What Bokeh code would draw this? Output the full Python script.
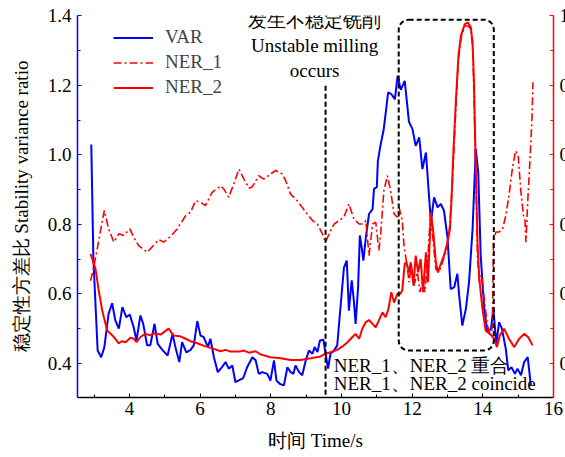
from bokeh.plotting import figure
from bokeh.models import (Range1d, LinearAxis, FixedTicker, Legend, LegendItem,
                          Label, BoxAnnotation, GlobalInlineStyleSheet, PrintfTickFormatter)
from bokeh.embed import file_html
from bokeh.resources import INLINE

# ---------------- data ----------------
VAR_t = [2.92, 2.98, 3.10, 3.20, 3.29, 3.41, 3.51, 3.60, 3.70, 3.80,
         3.91, 4.01, 4.12, 4.20, 4.31, 4.39, 4.50, 4.59, 4.71, 4.80,
         4.93, 5.08, 5.22, 5.30, 5.41, 5.49, 5.61, 5.73, 5.82, 5.92,
         6.01, 6.10, 6.22, 6.29, 6.39, 6.50, 6.63, 6.72, 6.81, 6.91,
         7.00, 7.12, 7.22, 7.33, 7.48, 7.57, 7.66, 7.76, 7.90, 7.99,
         8.09, 8.16, 8.26, 8.37, 8.47, 8.56, 8.64, 8.70, 8.80, 8.89,
         8.99, 9.08, 9.18, 9.24, 9.32, 9.39, 9.49, 9.55, 9.62, 9.69,
         9.79, 9.88, 9.98, 10.07, 10.15, 10.21, 10.29, 10.35, 10.40, 10.47,
         10.52, 10.57, 10.62, 10.69, 10.78, 10.88, 10.92, 11.00, 11.03, 11.11,
         11.19, 11.26, 11.32, 11.41, 11.51, 11.59, 11.68, 11.79, 11.91, 12.01,
         12.10, 12.20, 12.29, 12.39, 12.48, 12.53, 12.62, 12.72, 12.81, 12.90,
         13.00, 13.09, 13.19, 13.28, 13.33, 13.42, 13.52, 13.61, 13.71, 13.80,
         13.87, 13.94, 14.04, 14.13, 14.23, 14.30, 14.38, 14.46, 14.54, 14.65,
         14.72, 14.81, 14.91, 14.98, 15.08, 15.17, 15.27, 15.36]
VAR_v = [1.03, 0.70, 0.437, 0.418, 0.447, 0.543, 0.573, 0.524, 0.500, 0.562,
         0.533, 0.541, 0.504, 0.466, 0.538, 0.514, 0.452, 0.452, 0.514, 0.456,
         0.439, 0.423, 0.485, 0.447, 0.404, 0.461, 0.432, 0.439, 0.452, 0.522,
         0.480, 0.476, 0.447, 0.471, 0.418, 0.375, 0.391, 0.404, 0.385, 0.394,
         0.346, 0.353, 0.358, 0.389, 0.418, 0.409, 0.370, 0.375, 0.370, 0.351,
         0.409, 0.351, 0.341, 0.337, 0.389, 0.375, 0.370, 0.394, 0.375, 0.366,
         0.409, 0.437, 0.428, 0.447, 0.433, 0.466, 0.468, 0.428, 0.385, 0.428,
         0.437, 0.452, 0.571, 0.676, 0.696, 0.552, 0.639, 0.581, 0.514, 0.619,
         0.768, 0.735, 0.696, 0.763, 0.830, 0.844, 0.902, 0.907, 0.983, 1.031,
         1.070, 1.127, 1.180, 1.175, 1.160, 1.228, 1.187, 1.213, 1.095, 1.074,
         1.026, 1.050, 0.959, 1.007, 0.878, 0.806, 0.878, 0.849, 0.859, 0.840,
         0.763, 0.614, 0.619, 0.658, 0.595, 0.509, 0.557, 0.634, 0.787, 1.017,
         0.950, 0.710, 0.557, 0.490, 0.500, 0.557, 0.456, 0.519, 0.500, 0.442,
         0.380, 0.389, 0.370, 0.385, 0.366, 0.404, 0.418, 0.337]

NER1_t = [2.90, 2.99, 3.08, 3.18, 3.29, 3.41, 3.56, 3.70, 3.84, 4.01,
          4.12, 4.26, 4.50, 4.64, 4.83, 4.97, 5.16, 5.35, 5.59, 5.73,
          5.87, 6.01, 6.15, 6.34, 6.58, 6.67, 6.81, 6.95, 7.10, 7.24,
          7.38, 7.47, 7.66, 7.80, 7.99, 8.14, 8.33, 8.42, 8.56, 8.75,
          8.89, 9.03, 9.18, 9.32, 9.46, 9.55, 9.65, 9.79, 9.93, 10.07,
          10.21, 10.35, 10.50, 10.62, 10.69, 10.78, 10.88, 10.97, 11.06, 11.11,
          11.20, 11.30, 11.39, 11.49, 11.58, 11.63, 11.72, 11.77, 11.87, 11.91,
          11.98, 12.05, 12.15, 12.22, 12.29, 12.36, 12.43, 12.51, 12.58, 12.67,
          12.76, 12.86, 12.95, 13.02, 13.07, 13.14, 13.24, 13.31, 13.40, 13.49,
          13.58, 13.66, 13.72, 13.75, 13.80, 13.85, 13.90, 13.96, 14.04, 14.13,
          14.23, 14.27, 14.30, 14.37, 14.46, 14.56, 14.65, 14.74, 14.84, 14.93,
          15.00, 15.08, 15.15, 15.19, 15.22, 15.27, 15.34, 15.39, 15.42]
NER1_v = [0.238, 0.277, 0.325, 0.382, 0.440, 0.387, 0.349, 0.373, 0.368, 0.387,
          0.363, 0.339, 0.320, 0.335, 0.356, 0.349, 0.365, 0.387, 0.425, 0.435,
          0.468, 0.464, 0.454, 0.492, 0.511, 0.502, 0.478, 0.516, 0.559, 0.530,
          0.505, 0.507, 0.540, 0.530, 0.545, 0.555, 0.545, 0.526, 0.487, 0.468,
          0.449, 0.430, 0.411, 0.401, 0.373, 0.349, 0.373, 0.401, 0.411, 0.421,
          0.459, 0.416, 0.401, 0.401, 0.411, 0.310, 0.401, 0.406, 0.325, 0.373,
          0.497, 0.540, 0.497, 0.430, 0.421, 0.449, 0.411, 0.339, 0.272, 0.234,
          0.282, 0.224, 0.262, 0.205, 0.234, 0.205, 0.282, 0.416, 0.368, 0.272,
          0.262, 0.291, 0.320, 0.358, 0.406, 0.521, 0.741, 0.876, 0.943, 0.971,
          0.971, 0.962, 0.895, 0.760, 0.540, 0.301, 0.234, 0.255, 0.186, 0.109,
          0.080, 0.109, 0.349, 0.378, 0.378, 0.387, 0.425, 0.483, 0.564, 0.612,
          0.598, 0.492, 0.425, 0.416, 0.349, 0.464, 0.598, 0.703, 0.809]

NER2_t = [2.90, 3.04, 3.13, 3.23, 3.37, 3.56, 3.70, 3.79, 3.89, 4.03,
          4.12, 4.20, 4.31, 4.45, 4.59, 4.71, 4.88, 5.11, 5.25, 5.44,
          5.59, 5.73, 5.92, 6.15, 6.39, 6.58, 6.72, 6.86, 7.10, 7.24,
          7.38, 7.57, 7.71, 7.99, 8.28, 8.56, 8.84, 9.13, 9.41, 9.55,
          9.69, 9.88, 10.03, 10.17, 10.31, 10.40, 10.50, 10.59, 10.69, 10.78,
          10.88, 10.97, 11.06, 11.16, 11.25, 11.33, 11.41, 11.49, 11.58, 11.66,
          11.72, 11.79, 11.84, 11.91, 11.96, 12.04, 12.10, 12.17, 12.24, 12.31,
          12.39, 12.45, 12.53, 12.60, 12.67, 12.73, 12.81, 12.90, 13.00, 13.07,
          13.11, 13.17, 13.24, 13.31, 13.38, 13.49, 13.58, 13.66, 13.71, 13.75,
          13.80, 13.85, 13.90, 13.99, 14.08, 14.23, 14.32, 14.40, 14.48, 14.60,
          14.74, 14.89, 15.03, 15.17, 15.28, 15.41]
NER2_v = [0.315, 0.272, 0.210, 0.152, 0.095, 0.076, 0.058, 0.064, 0.061, 0.074,
          0.071, 0.061, 0.076, 0.085, 0.081, 0.087, 0.083, 0.100, 0.080, 0.078,
          0.071, 0.064, 0.058, 0.049, 0.042, 0.035, 0.039, 0.034, 0.034, 0.037,
          0.031, 0.035, 0.026, 0.018, 0.015, 0.010, 0.010, 0.015, 0.020, 0.028,
          0.032, 0.039, 0.049, 0.061, 0.076, 0.085, 0.071, 0.100, 0.119, 0.125,
          0.114, 0.104, 0.124, 0.147, 0.133, 0.157, 0.205, 0.175, 0.200, 0.200,
          0.210, 0.286, 0.291, 0.262, 0.291, 0.224, 0.310, 0.262, 0.300, 0.205,
          0.320, 0.234, 0.435, 0.377, 0.291, 0.262, 0.286, 0.310, 0.349, 0.387,
          0.464, 0.617, 0.760, 0.885, 0.943, 0.976, 0.981, 0.967, 0.924, 0.809,
          0.569, 0.349, 0.243, 0.157, 0.095, 0.082, 0.071, 0.047, 0.080, 0.100,
          0.071, 0.047, 0.071, 0.085, 0.076, 0.052]

SERIES_NAMES = ["VAR", "NER_1", "NER_2"]
X_TICKS = [4, 6, 8, 10, 12, 14, 16]
Y_TICKS = [0.4, 0.6, 0.8, 1.0, 1.2, 1.4]
R_TICKS = [0.0, 0.2, 0.4, 0.6, 0.8, 1.0]
X_LABEL = "时间 Time/s"
Y_LABEL = "稳定性方差比 Stability variance ratio"
NOTE_TOP = ["发生不稳定铣削", "Unstable milling", "occurs"]
NOTE_BOTTOM = ["NER_1、NER_2 重合", "NER_1、NER_2 coincide"]
ONSET_T = 9.55
BOX = dict(left=11.62, right=14.31, bottom=0.437, top=1.389)

FONT = "Liberation Serif"
FS = "19px"

p = figure(frame_width=476, frame_height=382,
           min_border_left=77, min_border_top=15, min_border_bottom=60, min_border_right=0,
           x_range=Range1d(2.53, 16.0), y_range=Range1d(0.302, 1.401),
           output_backend="svg", toolbar_location=None)
p.extra_y_ranges = {"r": Range1d(-0.098, 1.001)}
p.outline_line_color = None
p.xgrid.visible = False
p.ygrid.visible = False
p.background_fill_color = "white"
p.border_fill_color = "white"


def minors(major, step):
    out = []
    for a in major:
        out.append(round(a - step, 3))
        out.append(round(a + step, 3))
    return sorted(set(out))


def style_axis(ax, color):
    ax.axis_line_color = color
    ax.axis_line_width = 1.5
    ax.major_tick_line_color = color
    ax.minor_tick_line_color = color
    ax.major_tick_in = 4
    ax.major_tick_out = 0
    ax.minor_tick_in = 3
    ax.minor_tick_out = 0
    ax.major_label_text_font = FONT
    ax.major_label_text_font_size = FS
    ax.major_label_text_color = "black"
    ax.axis_label_text_font = FONT
    ax.axis_label_text_font_size = FS
    ax.axis_label_text_font_style = "normal"
    ax.axis_label_text_color = "black"


xa = p.xaxis[0]
xa.ticker = FixedTicker(ticks=X_TICKS, minor_ticks=minors(X_TICKS, 1))
style_axis(xa, "black")
xa.major_label_standoff = 4
xa.axis_label = X_LABEL
xa.axis_label_standoff = 12

ya = p.yaxis[0]
ya.ticker = FixedTicker(ticks=Y_TICKS, minor_ticks=minors(Y_TICKS, 0.1))
ya.formatter = PrintfTickFormatter(format="%.1f")
style_axis(ya, "blue")
ya.major_label_standoff = 6
ya.axis_label = Y_LABEL
ya.axis_label_standoff = 13

ra = LinearAxis(y_range_name="r",
                ticker=FixedTicker(ticks=R_TICKS, minor_ticks=minors(R_TICKS, 0.1)),
                formatter=PrintfTickFormatter(format="%.1f"))
style_axis(ra, "red")
ra.major_label_standoff = 6
p.add_layout(ra, "right")

r_var = p.line(VAR_t, VAR_v, line_color="blue", line_width=2)
r_n1 = p.line(NER1_t, NER1_v, y_range_name="r", line_color="red", line_width=1.6,
              line_dash="8 3 2 3")
r_n2 = p.line(NER2_t, NER2_v, y_range_name="r", line_color="red", line_width=2)

legend = Legend(items=[LegendItem(label=SERIES_NAMES[0], renderers=[r_var]),
                       LegendItem(label=SERIES_NAMES[1], renderers=[r_n1]),
                       LegendItem(label=SERIES_NAMES[2], renderers=[r_n2])],
                location=(36, 299), glyph_width=40, glyph_height=21, label_height=21,
                spacing=3, padding=0, margin=0, label_standoff=12,
                border_line_color=None, background_fill_alpha=0,
                label_text_font=FONT, label_text_font_size=FS)
p.add_layout(legend)

# onset line
p.segment(x0=[ONSET_T], y0=[1.199], x1=[ONSET_T], y1=[0.302],
          line_color="black", line_width=2, line_dash="5 3")

# dashed rounded box
p.add_layout(BoxAnnotation(fill_alpha=0, line_color="black", line_alpha=1.0, line_width=2,
                           line_dash="5 3", border_radius=10, **BOX))

for txt, yy in zip(NOTE_TOP, [1.386, 1.314, 1.242]):
    p.add_layout(Label(x=9.24, y=yy, text=txt, text_align="center", text_baseline="middle",
                       text_font=FONT, text_font_size=FS, text_color="black"))
for txt, yy in zip(NOTE_BOTTOM, [0.394, 0.343]):
    p.add_layout(Label(x=9.78, y=yy, text=txt, text_align="left", text_baseline="middle",
                       text_font=FONT, text_font_size=FS, text_color="black"))

p.stylesheets = [GlobalInlineStyleSheet(css="html, body {margin:0; padding:0; overflow:hidden;}")]

open("out.html", "w").write(file_html(p, INLINE))
